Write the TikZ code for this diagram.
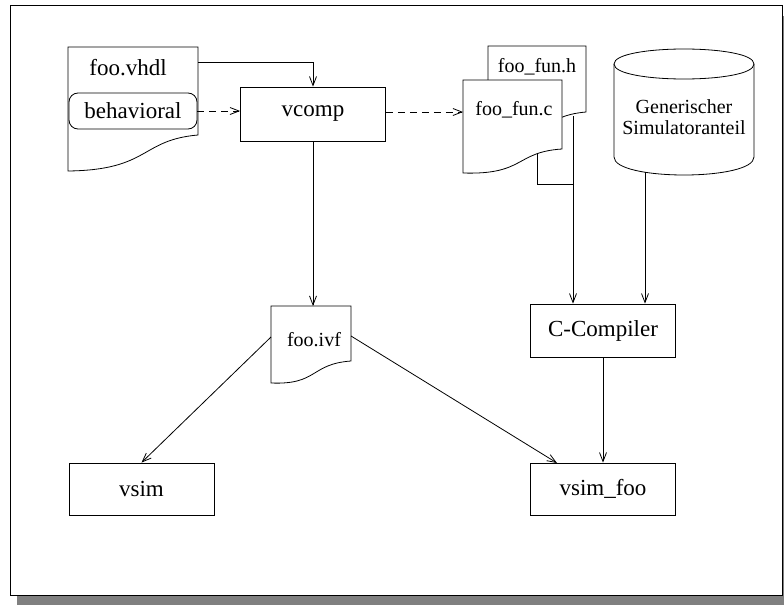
\documentclass[tikz,border=0pt]{standalone}
\usepackage{fontspec}
\setmainfont{Liberation Serif}
\usetikzlibrary{arrows.meta,calc}
\definecolor{shadowgray}{RGB}{128,128,128}
\begin{document}
\begin{tikzpicture}[x=1pt,y=-1pt,line width=0.8pt,
  every node/.style={font=\fontsize{23}{26}\selectfont},
  small/.style={font=\fontsize{20}{21}\selectfont},
  block/.style={draw,rectangle,inner sep=0pt,minimum width=145pt,minimum height=53pt},
  flow/.style={-{Straight Barb[length=9pt,width=7pt]}},
  dataflow/.style={flow,dash pattern=on 7pt off 5pt},
  docpage/.style={draw,fill=white}]
\useasboundingbox (0,0) rectangle (784,605);

% page frame with drop shadow
\fill[shadowgray] (17,16) rectangle (784,605);
\draw[fill=white] (10,5) rectangle (782,595);

% source file foo.vhdl with its behavioral part
\draw[docpage] (68,47) -- (198,47) -- (198,135)
  .. controls (140,140) and (150,170) .. (68,171) -- cycle;
\node (vhdl) at (128,68) {foo.vhdl};
\node[draw,rounded corners=9pt,inner sep=0pt,minimum width=128pt,minimum height=36pt] (beh) at (133,111) {behavioral};
\coordinate (vhdl-out) at (198,62);

% compiler front end
\node[block,minimum height=54pt] (vcomp) at (313,114) {vcomp};

% generated C sources
\draw[docpage] (488,46) -- (586,46) -- (586,112)
  .. controls (540,116) and (550,140) .. (488,139) -- cycle;
\node[small] (funh) at (537,67) {foo\_fun.h};
\draw[docpage] (463,80) -- (562,80) -- (562,149)
  .. controls (515,152) and (525,175) .. (463,173) -- cycle;
\node[small] (func) at (514,110) {foo\_fun.c};
\coordinate (func-in) at (463,112);
\coordinate (funh-out) at (573,116);
\coordinate (func-out) at (537,153);
\coordinate (join) at (573,184);

% generic simulator library
\draw[docpage] (614,64) -- (614,157)
  .. controls (614,181) and (754,181) .. (754,157) -- (754,64);
\draw[docpage] (614,64) .. controls (614,44) and (754,44) .. (754,64)
  .. controls (754,84) and (614,84) .. (614,64);
\node[small,align=center] (lib) at (684,117) {Generischer\\Simulatoranteil};
\coordinate (lib-out) at (645,172);

% intermediate format
\draw[docpage] (271,306) -- (351,306) -- (351,361)
  .. controls (310,364) and (318,385) .. (271,383) -- cycle;
\node[small] (ivf) at (314,340) {foo.ivf};
\coordinate (ivf-in) at (313,306);
\coordinate (ivf-left) at (271,337);
\coordinate (ivf-right) at (351,336);

% C compiler and simulators
\node[block] (cc) at (603,330.5) {C-Compiler};
\node[block,minimum height=52pt] (vsim) at (141.5,489) {vsim};
\node[block,minimum height=52pt] (vsimfoo) at (603,489) {vsim\_foo};
\coordinate (vsimfoo-in) at (557,463);

% connectors
\draw[flow] (vhdl-out) -| (vcomp.north);
\draw[dataflow] (beh.east) -- (vcomp.west |- beh.east);
\draw[dataflow] (vcomp.east |- func-in) -- (func-in);
\draw[flow] (vcomp.south) -- (ivf-in);
\draw (func-out) |- (join);
\draw[flow] (funh-out) -- (funh-out |- cc.north);
\draw[flow] (lib-out) -- (lib-out |- cc.north);
\draw[flow] (cc.south) -- (vsimfoo.north);
\draw[flow] (ivf-left) -- (vsim.north);
\draw[flow] (ivf-right) -- (vsimfoo-in);
\end{tikzpicture}
\end{document}
